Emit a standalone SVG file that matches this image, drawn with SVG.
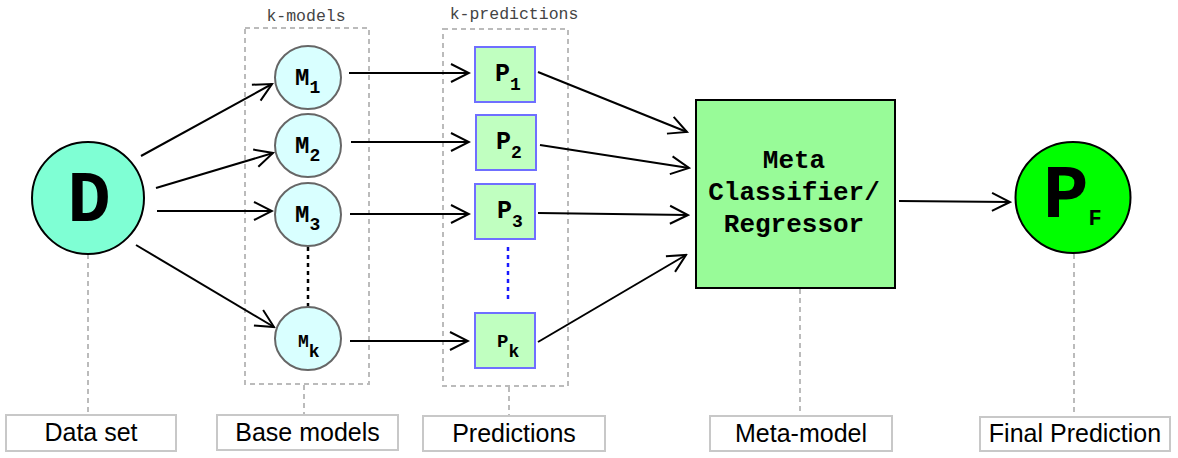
<svg xmlns="http://www.w3.org/2000/svg" width="1178" height="458" viewBox="0 0 1178 458">
<style>
.mono{font-family:"Liberation Mono","Courier New",monospace;font-weight:bold;fill:#000}
.cap{font-family:"Liberation Mono","Courier New",monospace;font-size:16.5px;fill:#444}
.lbl{font-family:"Liberation Sans",Arial,sans-serif;font-size:25px;fill:#000}
.lblbox{fill:#fff;stroke:#c8c8c8;stroke-width:2}
.lead{stroke:#bbb;stroke-width:2;stroke-dasharray:5,4;fill:none}
.grp{fill:none;stroke:#bbb;stroke-width:2;stroke-dasharray:5,4}
.m{fill:#d9ffff;stroke:#666;stroke-width:2}
.p{fill:#c0ffc0;stroke:#6f6fff;stroke-width:2}
.conn line{stroke:#000;stroke-width:2;marker-end:url(#arr)}
</style>
<defs>
<marker id="arr" viewBox="0 0 22 22" markerUnits="userSpaceOnUse" markerWidth="22" markerHeight="22" refX="20" refY="11" orient="auto">
<path d="M2,2 L20,11 L2,20" fill="none" stroke="#000" stroke-width="2"/>
</marker>
</defs>
<rect width="1178" height="458" fill="#fff"/>

<g id="leaders">
<line class="lead" x1="88" y1="254" x2="88" y2="414"/>
<line class="lead" x1="304" y1="385" x2="304" y2="415"/>
<line class="lead" x1="509" y1="387" x2="509" y2="416"/>
<line class="lead" x1="800" y1="289" x2="800" y2="416"/>
<line class="lead" x1="1074" y1="254" x2="1074" y2="417"/>
</g>

<g id="group-k-models">
<rect class="grp" x="245" y="28" width="124" height="356"/>
<text class="cap" x="306" y="21" text-anchor="middle">k-models</text>
</g>
<g id="group-k-predictions">
<rect class="grp" x="443" y="29" width="125" height="357"/>
<text class="cap" x="514" y="19" text-anchor="middle">k-predictions</text>
</g>

<g class="conn" id="connectors">
<line x1="141" y1="156" x2="272" y2="84"/>
<line x1="156" y1="188" x2="273" y2="153"/>
<line x1="157" y1="211" x2="272" y2="211"/>
<line x1="136" y1="245" x2="274" y2="327"/>
<line x1="349" y1="73" x2="469" y2="73"/>
<line x1="351" y1="142" x2="469" y2="142"/>
<line x1="350" y1="214" x2="469" y2="214"/>
<line x1="350" y1="341" x2="468" y2="341"/>
<line x1="538" y1="72" x2="687" y2="132"/>
<line x1="540" y1="145" x2="689" y2="168"/>
<line x1="538" y1="213" x2="688" y2="215"/>
<line x1="538" y1="342" x2="686" y2="255"/>
<line x1="899" y1="201" x2="1010" y2="202"/>
<line x1="308" y1="247" x2="308" y2="307" style="marker-end:none;stroke-dasharray:4,4;stroke-width:2.5"/>
<line x1="508" y1="247" x2="508" y2="303" style="marker-end:none;stroke:#1a1aff;stroke-dasharray:4,4;stroke-width:2.5"/>
</g>

<g id="D">
<circle cx="88" cy="198" r="56" fill="#7fffd4" stroke="#000" stroke-width="2"/>
<text class="mono" x="89" y="221" font-size="72" text-anchor="middle">D</text>
</g>

<g id="M1">
<ellipse class="m" cx="308" cy="77.5" rx="33" ry="31.5"/>
<text class="mono" x="295" y="85" font-size="24">M<tspan font-size="18" dy="8">1</tspan></text>
</g>
<g id="M2">
<ellipse class="m" cx="308" cy="145.5" rx="33" ry="31.5"/>
<text class="mono" x="295" y="153" font-size="24">M<tspan font-size="18" dy="8">2</tspan></text>
</g>
<g id="M3">
<ellipse class="m" cx="308" cy="214.5" rx="33" ry="31.5"/>
<text class="mono" x="295" y="222" font-size="24">M<tspan font-size="18" dy="8">3</tspan></text>
</g>
<g id="Mk">
<ellipse class="m" cx="308" cy="338.5" rx="33" ry="31.5"/>
<text class="mono" x="298" y="347" font-size="18">M<tspan font-size="18" dy="10">k</tspan></text>
</g>

<g id="P1">
<rect class="p" x="475" y="47" width="60" height="55"/>
<text class="mono" x="495" y="81" font-size="25">P<tspan font-size="18" dy="9">1</tspan></text>
</g>
<g id="P2">
<rect class="p" x="476" y="115" width="60" height="55"/>
<text class="mono" x="496" y="149" font-size="25">P<tspan font-size="18" dy="9">2</tspan></text>
</g>
<g id="P3">
<rect class="p" x="475" y="184" width="60" height="55"/>
<text class="mono" x="497" y="218" font-size="25">P<tspan font-size="18" dy="9">3</tspan></text>
</g>
<g id="Pk">
<rect class="p" x="475" y="313" width="60" height="55"/>
<text class="mono" x="497" y="347" font-size="19">P<tspan font-size="18" dy="10">k</tspan></text>
</g>

<g id="Meta">
<rect x="696" y="100" width="199" height="188" fill="#98fb98" stroke="#000" stroke-width="2"/>
<text class="mono" font-size="26" text-anchor="middle" x="794" y="168">Meta</text>
<text class="mono" font-size="26" text-anchor="middle" x="794" y="200">Classifier/</text>
<text class="mono" font-size="26" text-anchor="middle" x="794" y="232">Regressor</text>
</g>

<g id="PF">
<ellipse cx="1073" cy="197.5" rx="57.5" ry="55.5" fill="#00ff00" stroke="#000" stroke-width="2"/>
<text class="mono" x="1043" y="217" font-size="76">P<tspan font-size="22" dy="8">F</tspan></text>
</g>

<g id="label-data-set">
<rect class="lblbox" x="6" y="415" width="170" height="36"/>
<text class="lbl" x="91" y="441" text-anchor="middle">Data set</text>
</g>
<g id="label-base-models">
<rect class="lblbox" x="217" y="415" width="181" height="35"/>
<text class="lbl" x="307.5" y="441" text-anchor="middle">Base models</text>
</g>
<g id="label-predictions">
<rect class="lblbox" x="423" y="416" width="182" height="35"/>
<text class="lbl" x="514" y="442" text-anchor="middle">Predictions</text>
</g>
<g id="label-meta-model">
<rect class="lblbox" x="710" y="416" width="182" height="35"/>
<text class="lbl" x="801" y="442" text-anchor="middle">Meta-model</text>
</g>
<g id="label-final-prediction">
<rect class="lblbox" x="980" y="417" width="190" height="34"/>
<text class="lbl" x="1075" y="442" text-anchor="middle">Final Prediction</text>
</g>
</svg>
